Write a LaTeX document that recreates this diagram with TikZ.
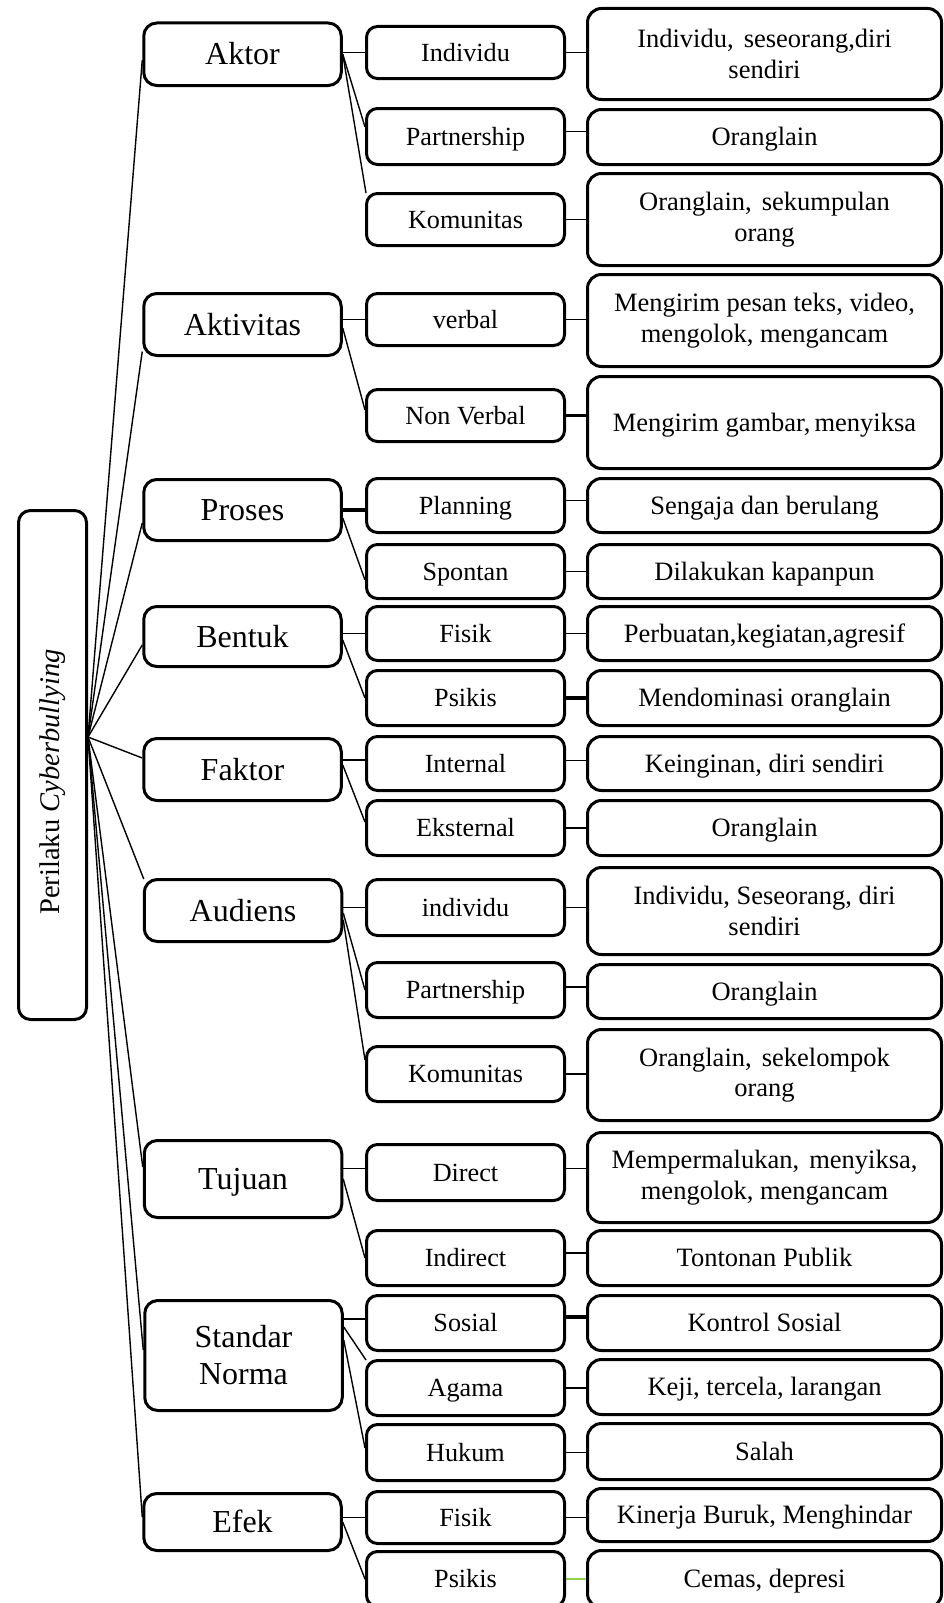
\documentclass[tikz,border=0pt]{standalone}
\usepackage{fontspec}
\setmainfont{Liberation Serif}
\usetikzlibrary{calc,backgrounds}
\definecolor{lgreen}{RGB}{146,208,80}
\begin{document}
\begin{tikzpicture}[x=1pt,y=-1pt,
 box/.style={draw=black, line width=3pt, rounded corners=11pt, fill=white, inner sep=2pt, align=center},
 lone/.style={box, minimum width=197.5pt, font=\fontsize{32}{37}\selectfont, rounded corners=13pt},
 ltwo/.style={box, minimum width=198pt, font=\fontsize{26.2}{31}\selectfont, text height=22.5pt, text depth=5.3pt},
 lthree/.style={box, minimum width=354pt, font=\fontsize{26.5}{30.5}\selectfont, rounded corners=14pt},
 onel/.style={text height=27.5pt, text depth=6.5pt},
 onet/.style={text height=22.8pt, text depth=5.3pt},
 conn/.style={line width=1.4pt},
 thickconn/.style={line width=3.2pt},
]
\useasboundingbox (0,0) rectangle (944,1603);
\clip (0,0) rectangle (944,1603);

% root
\node[box, minimum width=68pt, minimum height=509pt, rounded corners=12pt, font=\fontsize{28.5}{32}\selectfont] (root) at (52.5,765) {\rotatebox{90}{Perilaku \textit{Cyberbullying}\hspace{34pt}}};

% level 1
\node[lone, onel, minimum height=62.5pt] (aktor) at (242.5,54.25) {Aktor};
\node[lone, onel, minimum height=62pt] (aktivitas) at (242.5,324.5) {Aktivitas};
\node[lone, onel, minimum height=61pt] (proses) at (242.5,510) {Proses};
\node[lone, onel, minimum height=60pt] (bentuk) at (242.5,636.5) {Bentuk};
\node[lone, onel, minimum height=62pt] (faktor) at (242.5,769.5) {Faktor};
\node[lone, onel, minimum height=62pt] (audiens) at (243,910.5) {Audiens};
\node[lone, onel, minimum height=77pt] (tujuan) at (243,1179) {Tujuan};
\node[lone, minimum height=110pt] (standar) at (243.5,1355.5) {Standar\\Norma};
\node[lone, onel, minimum height=57pt] (efek) at (242.5,1522) {Efek};

% level 2
\node[ltwo, minimum height=52pt] (individu) at (465.5,52.5) {Individu};
\node[ltwo, minimum height=56pt] (partner) at (465.5,136.5) {Partnership};
\node[ltwo, minimum height=52pt] (komunitas) at (465.5,219.5) {Komunitas};
\node[ltwo, minimum height=52pt] (verbal) at (465.5,319.5) {verbal};
\node[ltwo, minimum height=52pt] (nonverbal) at (465.5,415.5) {Non Verbal};
\node[ltwo, minimum height=54pt] (planning) at (465.5,505.5) {Planning};
\node[ltwo, minimum height=54pt] (spontan) at (465.5,571.5) {Spontan};
\node[ltwo, minimum height=54pt] (fisik) at (465.5,633.5) {Fisik};
\node[ltwo, minimum height=55pt] (psikis) at (465.5,698) {Psikis};
\node[ltwo, minimum height=54pt] (internal) at (465.5,763.5) {Internal};
\node[ltwo, minimum height=55pt] (eksternal) at (465.5,828) {Eksternal};
\node[ltwo, minimum height=56pt] (individu2) at (465.5,907.5) {individu};
\node[ltwo, minimum height=55pt] (partner2) at (465.5,990) {Partnership};
\node[ltwo, minimum height=55pt] (komunitas2) at (465.5,1074) {Komunitas};
\node[ltwo, minimum height=56pt] (direct) at (465.5,1172.5) {Direct};
\node[ltwo, minimum height=55pt] (indirect) at (465.5,1258) {Indirect};
\node[ltwo, minimum height=55pt] (sosial) at (465.5,1323) {Sosial};
\node[ltwo, minimum height=55pt] (agama) at (465.5,1388) {Agama};
\node[ltwo, minimum height=56pt] (hukum) at (465.5,1452.5) {Hukum};
\node[ltwo, minimum height=52pt] (fisik2) at (465.5,1517.5) {Fisik};
\node[ltwo, minimum height=55pt] (psikis2) at (465.5,1579) {Psikis};

% level 3
\node[lthree, minimum height=91pt] (r1) at (764.5,54) {Individu,\hspace{.38em}seseorang,diri\\sendiri};
\node[lthree, onet, minimum height=55pt] (r2) at (764.5,137) {Oranglain};
\node[lthree, minimum height=92pt] (r3) at (764.5,219.5) {Oranglain,\hspace{.38em}sekumpulan\\orang};
\node[lthree, minimum height=92pt] (r4) at (764.5,320.5) {Mengirim pesan teks, video,\\mengolok, mengancam};
\node[lthree, onet, minimum height=92pt] (r5) at (764.5,422.5) {Mengirim gambar,\hspace{0.15em}menyiksa};
\node[lthree, onet, minimum height=54pt] (r6) at (764.5,505.5) {Sengaja dan berulang};
\node[lthree, onet, minimum height=54pt] (r7) at (764.5,571.5) {Dilakukan kapanpun};
\node[lthree, onet, minimum height=54pt] (r8) at (764.5,633.5) {Perbuatan,kegiatan,agresif};
\node[lthree, onet, minimum height=55pt] (r9) at (764.5,698) {Mendominasi oranglain};
\node[lthree, onet, minimum height=54pt] (r10) at (764.5,763.5) {Keinginan, diri sendiri};
\node[lthree, onet, minimum height=55pt] (r11) at (764.5,828) {Oranglain};
\node[lthree, minimum height=87pt] (r12) at (764.5,911) {Individu, Seseorang, diri\\sendiri};
\node[lthree, onet, minimum height=54pt] (r13) at (764.5,991.5) {Oranglain};
\node[lthree, minimum height=91pt] (r14) at (764.5,1075) {Oranglain,\hspace{.38em}sekelompok\\orang};
\node[lthree, minimum height=90pt] (r15) at (764.5,1177.5) {Mempermalukan,\hspace{.38em}menyiksa,\\mengolok, mengancam};
\node[lthree, onet, minimum height=55pt] (r16) at (764.5,1258) {Tontonan Publik};
\node[lthree, onet, minimum height=55pt] (r17) at (764.5,1323) {Kontrol Sosial};
\node[lthree, onet, minimum height=55pt] (r18) at (764.5,1387) {Keji, tercela, larangan};
\node[lthree, onet, minimum height=56pt] (r19) at (764.5,1451.5) {Salah};
\node[lthree, onet, minimum height=53pt] (r20) at (764.5,1515) {Kinerja Buruk, Menghindar};
\node[lthree, onet, minimum height=57pt] (r21) at (764.5,1579) {Cemas, depresi};

\begin{scope}[on background layer]
% fan from root
\coordinate (fan) at ([yshift=28pt]root.east);
\draw[conn] (fan) -- ([yshift=-6pt]aktor.west);
\draw[conn] (fan) -- ([yshift=-27pt]aktivitas.west);
\draw[conn] (fan) -- ([yshift=-13pt]proses.west);
\draw[conn] (fan) -- ([yshift=-8.5pt]bentuk.west);
\draw[conn] (fan) -- ([yshift=11.5pt]faktor.west);
\draw[conn] (fan) -- ([xshift=1pt,yshift=-1pt]audiens.north west);
\draw[conn] (fan) -- ([yshift=12pt]tujuan.west);
\draw[conn] (fan) -- ([yshift=5.5pt]standar.west);
\draw[conn] (fan) -- ([yshift=5pt]efek.west);

% level 1 -> level 2
\draw[conn] (individu.west -| aktor.east) -- (individu.west);
\draw[conn] (aktor.east) -- ([yshift=9.5pt]partner.west);
\draw[conn] (aktor.east) -- ([xshift=1pt,yshift=-1pt]komunitas.north west);
\draw[conn] (verbal.west -| aktivitas.east) -- (verbal.west);
\draw[conn] ([yshift=-3.5pt]aktivitas.east) -- ([yshift=5.5pt]nonverbal.west);
\draw[thickconn] (proses.east) -- (proses.east -| planning.west);
\draw[conn] ([yshift=-8pt]proses.east) -- ([yshift=-8.5pt]spontan.west);
\draw[conn] (fisik.west -| bentuk.east) -- (fisik.west);
\draw[conn] ([yshift=-3.5pt]bentuk.east) -- (psikis.west);
\draw[conn] ($(internal.west -| faktor.east)+(0,-3.5)$) -- ($(internal.west)+(0,-3.5)$);
\draw[conn] ([yshift=4.5pt]faktor.east) -- ([yshift=6pt]eksternal.west);
\draw[conn] (individu2.west -| audiens.east) -- (individu2.west);
\draw[conn] ([yshift=-2.5pt]audiens.east) -- (partner2.west);
\draw[conn] ([yshift=-9.5pt]audiens.east) -- ([yshift=14pt]komunitas2.west);
\draw[conn] ($(direct.west -| tujuan.east)+(0,-4)$) -- ($(direct.west)+(0,-4)$);
\draw[conn] (tujuan.east) -- (indirect.west);
\draw[conn] ($(sosial.west -| standar.east)+(0,-4)$) -- ($(sosial.west)+(0,-4)$);
\draw[conn] ([yshift=28.5pt]standar.east) -- ([xshift=1pt,yshift=-1pt]agama.north west);
\draw[conn] ([yshift=15.5pt]standar.east) -- ([yshift=4.5pt]hukum.west);
\draw[conn] (fisik2.west -| efek.east) -- (fisik2.west);
\draw[conn] (efek.east) -- (psikis2.west);

% level 2 -> level 3
\draw[conn] (individu.east) -- (individu.east -| r1.west);
\draw[conn] ($(partner.east)+(0,-5)$) -- ($(partner.east -| r2.west)+(0,-5)$);
\draw[conn] (komunitas.east) -- (komunitas.east -| r3.west);
\draw[conn] (verbal.east) -- (verbal.east -| r4.west);
\draw[thickconn] (nonverbal.east) -- (nonverbal.east -| r5.west);
\draw[conn] ($(planning.east)+(0,-5)$) -- ($(planning.east -| r6.west)+(0,-5)$);
\draw[conn] (spontan.east) -- (spontan.east -| r7.west);
\draw[conn] (fisik.east) -- (fisik.east -| r8.west);
\draw[thickconn] (psikis.east) -- (psikis.east -| r9.west);
\draw[conn] ($(internal.east)+(0,-3)$) -- ($(internal.east -| r10.west)+(0,-3)$);
\draw[conn] (eksternal.east) -- (eksternal.east -| r11.west);
\draw[conn] (individu2.east) -- (individu2.east -| r12.west);
\draw[conn] ($(partner2.east)+(0,-3)$) -- ($(partner2.east -| r13.west)+(0,-3)$);
\draw[conn] (komunitas2.east) -- (komunitas2.east -| r14.west);
\draw[conn] ($(direct.east)+(0,-4)$) -- ($(direct.east -| r15.west)+(0,-4)$);
\draw[conn] ($(indirect.east)+(0,-5)$) -- ($(indirect.east -| r16.west)+(0,-5)$);
\draw[thickconn] ($(sosial.east)+(0,-6)$) -- ($(sosial.east -| r17.west)+(0,-6)$);
\draw[conn] (agama.east) -- (agama.east -| r18.west);
\draw[conn] (hukum.east) -- (hukum.east -| r19.west);
\draw[conn] (fisik2.east) -- (fisik2.east -| r20.west);
\draw[conn, draw=lgreen] (psikis2.east) -- (psikis2.east -| r21.west);
\end{scope}
\end{tikzpicture}
\end{document}
